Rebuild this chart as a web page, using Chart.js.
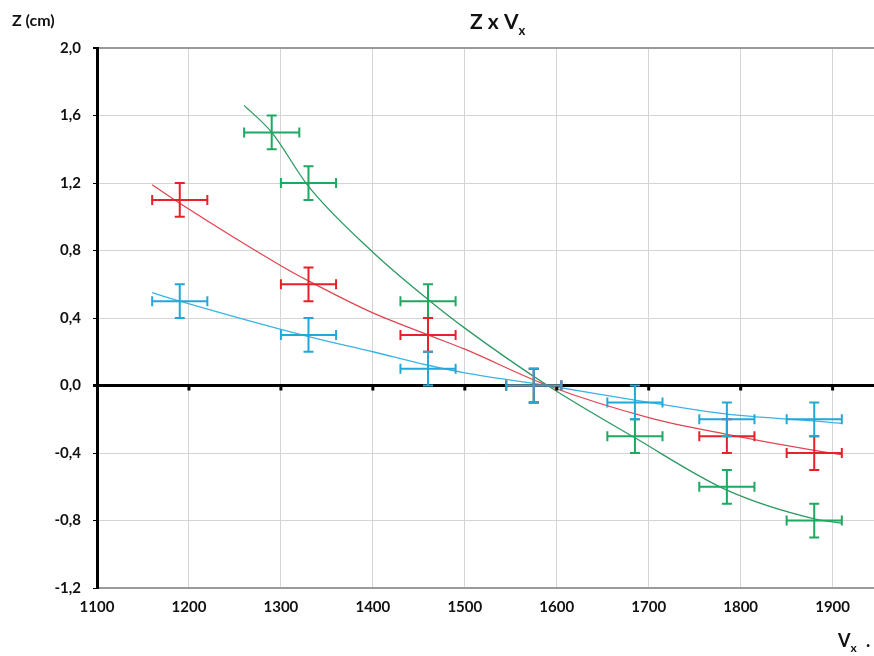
<!DOCTYPE html>
<html>
<head>
<meta charset="utf-8">
<script src="https://cdn.jsdelivr.net/npm/chart.js@4/dist/chart.umd.min.js"></script>
<style>
  html, body { margin: 0; background: #fff; }
  #wrap { width: 874px; height: 656px; }
</style>
</head>
<body>
<div id="wrap"><canvas id="chart"></canvas></div>
<script>
// Measured points (Vx, Z) with error bars
const greenX = [1290, 1330, 1460, 1575, 1685, 1785, 1880];
const greenZ = [1.5, 1.2, 0.5, 0.0, -0.3, -0.6, -0.8];
const redX = [1190, 1330, 1460, 1575, 1785, 1880];
const redZ = [1.1, 0.6, 0.3, 0.0, -0.3, -0.4];
const cyanX = [1190, 1330, 1460, 1575, 1685, 1785, 1880];
const cyanZ = [0.5, 0.3, 0.1, 0.0, -0.1, -0.2, -0.2];
const errVx = 30;
const errZ = 0.1;

// Trend curves
const greenCurveX = [1260, 1290, 1330, 1400, 1460, 1500, 1590, 1685, 1785, 1880, 1910];
const greenCurveZ = [1.66, 1.5, 1.18, 0.79, 0.51, 0.34, 0.0, -0.31, -0.62, -0.79, -0.815];
const redCurveX = [1160, 1190, 1300, 1330, 1400, 1460, 1500, 1590, 1700, 1785, 1880, 1910];
const redCurveZ = [1.19, 1.08, 0.71, 0.62, 0.43, 0.3, 0.215, 0.0, -0.19, -0.29, -0.385, -0.41];
const cyanCurveX = [1160, 1190, 1330, 1400, 1460, 1500, 1590, 1700, 1785, 1880, 1910];
const cyanCurveZ = [0.55, 0.5, 0.29, 0.2, 0.12, 0.075, 0.0, -0.1, -0.17, -0.21, -0.225];

// Axis ticks
const xTicks = [1100, 1200, 1300, 1400, 1500, 1600, 1700, 1800, 1900];
const yTicks = [-1.2, -0.8, -0.4, 0.0, 0.4, 0.8, 1.2, 1.6, 2.0];

const GREEN = "#1ea860";
const RED = "#e8202a";
const CYAN = "#22a8d8";

const toXY = (xs, ys) => xs.map((x, i) => ({ x: x, y: ys[i] }));
const fmt = (v) => v.toFixed(1).replace(".", ",");

function curve(xs, ys, color) {
  return {
    type: "line",
    data: toXY(xs, ys),
    borderColor: color,
    borderWidth: 1.3,
    pointRadius: 0,
    cubicInterpolationMode: "monotone",
    fill: false,
  };
}

function points(xs, ys, color) {
  return {
    type: "scatter",
    data: toXY(xs, ys),
    backgroundColor: color,
    borderColor: color,
    pointRadius: 0,
    errColor: color,
  };
}

// Draws error bars, the zero-line ticks and the texts
const decorations = {
  id: "decorations",
  afterDatasetsDraw(chart) {
    const { ctx, scales } = chart;
    const xs = scales.x;
    const ys = scales.y;
    ctx.save();

    // small ticks under the zero line
    ctx.strokeStyle = "#000";
    ctx.lineWidth = 3;
    const y0 = ys.getPixelForValue(0);
    xTicks.slice(1).forEach((v) => {
      const px = xs.getPixelForValue(v);
      ctx.beginPath();
      ctx.moveTo(px, y0);
      ctx.lineTo(px, y0 + 5);
      ctx.stroke();
    });

    // error bars
    chart.data.datasets.forEach((ds) => {
      if (!ds.errColor) return;
      ctx.strokeStyle = ds.errColor;
      ctx.lineWidth = 2;
      ds.data.forEach((p) => {
        const cx = xs.getPixelForValue(p.x);
        const cy = ys.getPixelForValue(p.y);
        const xl = xs.getPixelForValue(p.x - errVx);
        const xr = xs.getPixelForValue(p.x + errVx);
        const yt = ys.getPixelForValue(p.y + errZ);
        const yb = ys.getPixelForValue(p.y - errZ);
        const cap = 5;
        ctx.beginPath();
        ctx.moveTo(xl, cy); ctx.lineTo(xr, cy);
        ctx.moveTo(cx, yt); ctx.lineTo(cx, yb);
        ctx.moveTo(xl, cy - cap); ctx.lineTo(xl, cy + cap);
        ctx.moveTo(xr, cy - cap); ctx.lineTo(xr, cy + cap);
        ctx.moveTo(cx - cap, yt); ctx.lineTo(cx + cap, yt);
        ctx.moveTo(cx - cap, yb); ctx.lineTo(cx + cap, yb);
        ctx.stroke();
      });
    });

    // texts
    ctx.fillStyle = "#111";
    ctx.textBaseline = "alphabetic";
    ctx.textAlign = "left";
    ctx.font = "bold 16px Lato";
    ctx.fillText("Z (cm)", 12, 26);

    ctx.font = "bold 21px Lato";
    const t = "Z x V";
    const tw = ctx.measureText(t).width;
    const tx = 470;
    ctx.fillText(t, tx, 29);
    ctx.font = "bold 13px Lato";
    ctx.fillText("x", tx + tw, 35);

    ctx.font = "bold 18px Lato";
    ctx.fillText("V", 838, 647);
    const vw = ctx.measureText("V").width;
    ctx.font = "bold 12px Lato";
    ctx.fillText("x", 838 + vw, 652);
    ctx.font = "bold 18px Lato";
    ctx.fillText(".", 866, 647);

    ctx.restore();
  },
};

new Chart(document.getElementById("chart"), {
  data: {
    datasets: [
      curve(cyanCurveX, cyanCurveZ, "#3ab4e6"),
      curve(redCurveX, redCurveZ, "#e04652"),
      curve(greenCurveX, greenCurveZ, "#2e9a64"),
      points(greenX, greenZ, GREEN),
      points(redX, redZ, RED),
      points(cyanX, cyanZ, CYAN),
    ],
  },
  options: {
    responsive: true,
    maintainAspectRatio: false,
    animation: false,
    layout: { padding: { top: 48, right: 0, left: 0, bottom: 0 } },
    plugins: {
      legend: { display: false },
      tooltip: { enabled: false },
    },
    scales: {
      x: {
        type: "linear",
        min: 1100,
        max: 1945,
        afterBuildTicks: (scale) => {
          scale.ticks = xTicks.map((v) => ({ value: v }));
        },
        afterFit: (scale) => { scale.height = 68; },
        ticks: {
          autoSkip: false,
          padding: 10,
          color: "#111",
          font: { family: "Lato", size: 15, weight: "bold" },
          callback: (v) => String(v),
        },
        grid: { color: "#d4d4d4", lineWidth: 1, drawTicks: false },
        border: { color: "#9a9a9a", width: 2 },
      },
      y: {
        min: -1.2,
        max: 2.0,
        afterBuildTicks: (scale) => {
          scale.ticks = yTicks.map((v) => ({ value: v }));
        },
        afterFit: (scale) => { scale.width = 97; },
        ticks: {
          autoSkip: false,
          padding: 12,
          color: "#111",
          font: { family: "Lato", size: 15, weight: "bold" },
          callback: (v) => fmt(v),
        },
        grid: {
          color: (c) => {
            const v = c.tick ? c.tick.value : null;
            if (v !== null && Math.abs(v) < 1e-6) return "#000";
            if (v !== null && Math.abs(v - 2) < 1e-6) return "#9a9a9a";
            return "#d4d4d4";
          },
          lineWidth: (c) => {
            const v = c.tick ? c.tick.value : null;
            if (v !== null && Math.abs(v) < 1e-6) return 3;
            if (v !== null && Math.abs(v - 2) < 1e-6) return 2;
            return 1;
          },
          tickColor: "#000",
          tickLength: 4,
        },
        border: { color: "#000", width: 3 },
      },
    },
  },
  plugins: [decorations],
});
</script>
</body>
</html>
